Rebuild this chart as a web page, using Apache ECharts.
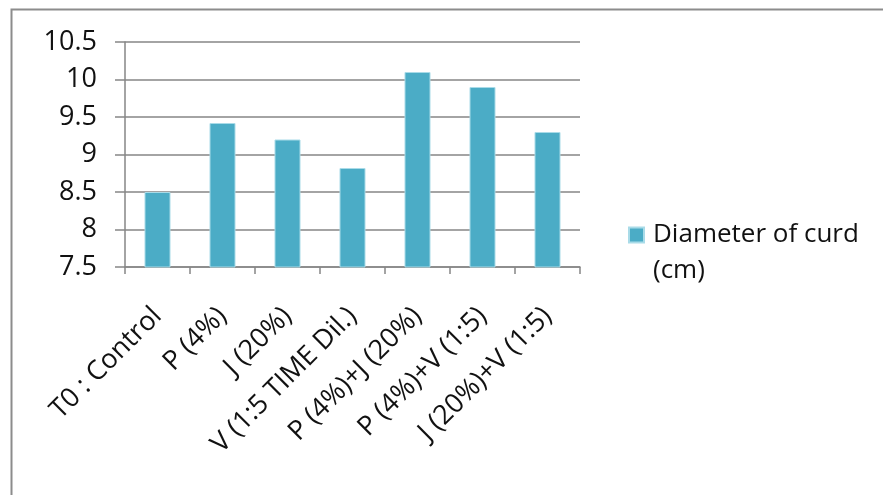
<!DOCTYPE html>
<html>
<head>
<meta charset="utf-8">
<script src="https://cdn.jsdelivr.net/npm/echarts@6/dist/echarts.min.js"></script>
<style>
html,body{margin:0;padding:0;background:#fff;}
#chart{width:883px;height:495px;}
</style>
</head>
<body>
<div id="chart"></div>
<script>
const categories = ['T0 : Control','P (4%)','J (20%)','V (1:5 TIME Dil.)','P (4%)+J (20%)','P (4%)+V (1:5)','J (20%)+V (1:5)'];
const seriesName = 'Diameter of curd (cm)';
const values = [8.5, 9.42, 9.2, 8.82, 10.1, 9.9, 9.3];
const yMin = 7.5, yMax = 10.5, yStep = 0.5;

const chart = echarts.init(document.getElementById('chart'), null, {renderer:'canvas'});
const font = 'Open Sans';
chart.setOption({
  animation: false,
  backgroundColor: '#fff',
  graphic: [{
    type: 'rect', left: 9, top: 7, z: -1,
    shape: {width: 900, height: 520},
    style: {fill: 'none', stroke: '#8c8c8c', lineWidth: 2}
  }],
  grid: {left: 125, right: 303, top: 42, bottom: 228, containLabel: false},
  legend: {
    show: true, left: 628, top: 181, padding: 0,
    itemWidth: 15, itemHeight: 15, itemGap: 0,
    icon: 'rect',
    formatter: function(){ return '\nDiameter of curd\n(cm)'; },
    textStyle: {fontFamily: font, fontSize: 26, color: '#111', lineHeight: 36, padding: [0,0,0,4]}
  },
  xAxis: {
    type: 'category', data: categories,
    axisLine: {lineStyle: {color: '#868686', width: 1.5}},
    axisTick: {show: true, length: 7, lineStyle: {color: '#868686', width: 1.5}},
    axisLabel: {rotate: 45, fontFamily: font, fontSize: 27, color: '#111', margin: 45, interval: 0}
  },
  yAxis: {
    type: 'value', min: yMin, max: yMax, interval: yStep,
    axisLine: {show: true, lineStyle: {color: '#868686', width: 1.5}},
    axisTick: {show: true, length: 10, lineStyle: {color: '#868686', width: 1.5}},
    splitLine: {lineStyle: {color: '#868686', width: 1.5}},
    axisLabel: {fontFamily: font, fontSize: 27, color: '#111', margin: 28}
  },
  series: [{
    name: seriesName, type: 'bar', data: values, barWidth: '40%',
    itemStyle: {color: '#4BACC6', borderColor: '#a9dbe8', borderWidth: 1}
  }]
});
</script>
</body>
</html>
